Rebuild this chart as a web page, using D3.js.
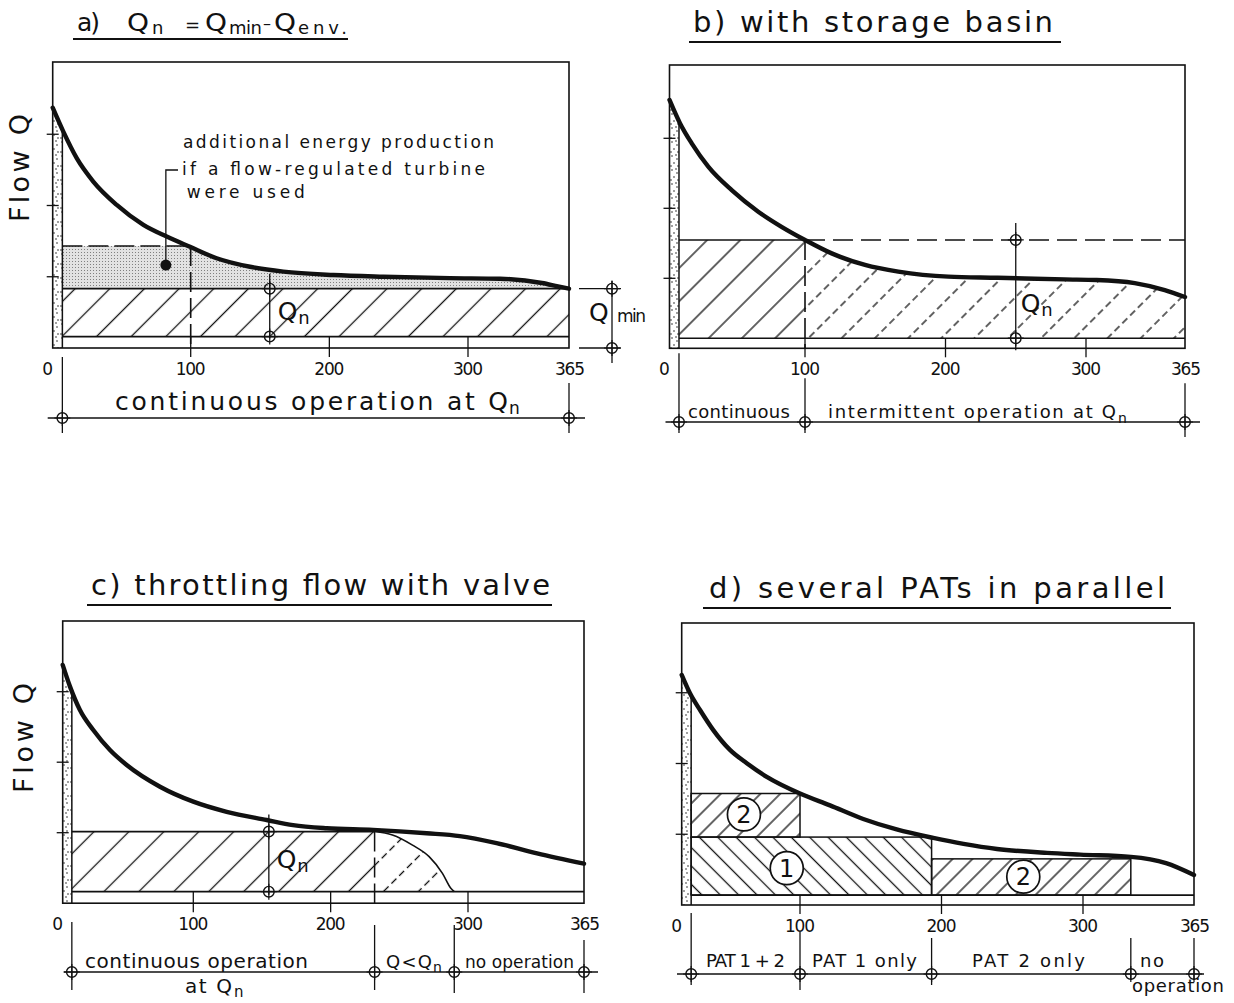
<!DOCTYPE html>
<html>
<head>
<meta charset="utf-8">
<script src="https://cdn.jsdelivr.net/npm/d3@7"></script>
<style>
  body { margin: 0; background: #fff; }
  text { font-family: "DejaVu Sans", sans-serif; fill: #111; }
</style>
</head>
<body>
<div id="chart"></div>
<script>
// ---------- values (day of year -> flow, ticks at 25/50/75) ----------
const dayTicks = [100, 200, 300];
const dayLabels = [0, 100, 200, 300, 365];
const flowTicks = [25, 50, 75];

// a) Qn = Qmin - Qenv
const daysA = [0, 7.7, 17.4, 29.4, 46.4, 65.7, 82.6, 99.5, 118.7, 142.8, 166.8, 202.8, 238.9, 287, 320.6, 347.6, 357.9, 365];
const flowA = [84.3, 75.9, 66.6, 58.4, 50.2, 43.2, 39.1, 35.5, 31.5, 28.5, 26.8, 25.6, 25, 24.5, 24.3, 22.8, 21.6, 20.8];
const qEnvA = 4, qMinA = 20.8, qRegA = 35.8;
const envDayA = 7, regDayA = 100, qnDimDayA = 157;
const noteDotA = [82, 29.1];
const noteLinesA = ["additional energy production", "if a flow-regulated turbine", "were used"];

// b) with storage basin
const daysB = [0, 7.7, 16.4, 28.6, 45.9, 65.5, 82.7, 100, 119, 142.7, 166.4, 202, 237.2, 284.7, 307, 332, 351.7, 365];
const flowB = [88.7, 80.4, 73.2, 64.9, 56.5, 48.8, 43.4, 38.7, 33.9, 29.8, 27.4, 25.6, 25.2, 24.6, 24.4, 23.3, 20.8, 18.3];
const qEnvB = 3.6, qNB = 38.7;
const envDayB = 7, storeDayB = 100, qnDimDayB = 250;

// c) throttling flow with valve
const daysC = [0, 5.6, 13.2, 23.4, 36.2, 49, 74.5, 100, 124.3, 153.4, 172.6, 197.1, 230.8, 269.9, 294, 316, 338.7, 365];
const flowC = [84.5, 76.8, 68.5, 61.4, 54.3, 49, 41.3, 36, 32.4, 29.5, 27.7, 26.6, 26, 24.8, 23.8, 21.3, 17.7, 14];
const valveDaysC = [232, 245, 259.6, 271.7, 281.4, 287.5, 290];
const valveFlowC = [25.4, 24.2, 20.6, 16.5, 10.6, 5.3, 4.1];
const qEnvC = 4.1, qNC = 25.4;
const envDayC = 7, qnDimDayC = 155;
const opDaysC = [7, 232, 290, 365];

// d) several PATs in parallel
const daysD = [0, 7, 15.5, 26.7, 40.8, 55, 71.9, 100, 121.2, 144.7, 168.3, 194.2, 215.6, 239.2, 274.6, 298, 328, 348.6, 365];
const flowD = [81.3, 74.8, 68.9, 61.8, 54.8, 50.1, 45.3, 39.4, 35.2, 30.4, 26.7, 23.7, 21.6, 19.8, 18.4, 17.8, 17, 14.8, 10.6];
const qEnvD = 3.5, envDayD = 8;
const patNames = ["2", "1", "2"];
const patStart = [8, 8, 193];
const patEnd = [100, 193, 328];
const patLow = [24, 3.5, 3.5];
const patHigh = [39.4, 24, 16.3];
const patLabelDay = [52.6, 88.8, 257.8];
const patLabelFlow = [32, 13, 10];
const opDaysD = [8, 100, 193, 328, 365];
const opTextD = ["PAT 1 + 2", "PAT 1 only", "PAT 2 only", "no"];

// ---------- layout ----------
const W = 1234, H = 1003;
const ink = '#111';
const dayBreaks = [0, 100, 300, 365];   // the drawing's day axis is not quite uniform
const layoutA = {id: 'a', xr: [52.7, 190.7, 468, 569], y0: 348, k: 2.85, top: 62};
const layoutB = {id: 'b', xr: [669.5, 805, 1086, 1185], y0: 348.3, k: 2.8, top: 65};
const layoutC = {id: 'c', xr: [62.7, 193.3, 468, 584], y0: 903.2, k: 2.82, top: 621};
const layoutD = {id: 'd', xr: [681.7, 800, 1083, 1194], y0: 905, k: 2.83, top: 623};

const svg = d3.select('#chart').append('svg')
  .attr('width', W)
  .attr('height', H);
const defs = svg.append('defs');

// hatch patterns
function hatch(id, gap, angle, dash) {
  const hgt = dash ? 22 : gap;
  const p = defs.append('pattern')
    .attr('id', id)
    .attr('patternUnits', 'userSpaceOnUse')
    .attr('width', gap)
    .attr('height', hgt)
    .attr('patternTransform', `rotate(${angle})`);
  p.append('line')
    .attr('x1', gap / 2).attr('y1', 0)
    .attr('x2', gap / 2).attr('y2', hgt)
    .attr('stroke', ink)
    .attr('stroke-width', 1.3)
    .attr('stroke-dasharray', dash || null);
}
hatch('hatchA', 24.5, 45);
hatch('hatchB', 23.5, 45);
hatch('hatchBd', 23.5, 45, '7,4');
hatch('hatchC', 24.7, 45);
hatch('hatchCd', 24.7, 45, '7,4');
hatch('hatchD1', 13, -45);
hatch('hatchD2', 14, 45);

// stippled strip (Q env)
const stip = defs.append('pattern')
  .attr('id', 'stipple')
  .attr('patternUnits', 'userSpaceOnUse')
  .attr('width', 10)
  .attr('height', 14);
[[2, 2], [7, 5], [4, 9], [8, 12], [1, 12], [6, 1]].forEach(d => {
  stip.append('circle').attr('cx', d[0]).attr('cy', d[1]).attr('r', 0.75).attr('fill', ink);
});

// grey screen for the extra energy
const grey = defs.append('pattern')
  .attr('id', 'grey')
  .attr('patternUnits', 'userSpaceOnUse')
  .attr('width', 3)
  .attr('height', 3);
grey.append('rect').attr('width', 3).attr('height', 3).attr('fill', '#e2e2e2');
grey.append('rect').attr('width', 1).attr('height', 1).attr('fill', '#808080');

// ---------- helpers ----------
function seg(g, x1, y1, x2, y2, w, dash) {
  return g.append('line')
    .attr('x1', x1).attr('y1', y1)
    .attr('x2', x2).attr('y2', y2)
    .attr('stroke', ink)
    .attr('stroke-width', w || 1.4)
    .attr('stroke-dasharray', dash || null);
}

function txt(g, s, x, y, size, len, anchor) {
  const t = g.append('text')
    .attr('x', x)
    .attr('y', y)
    .attr('font-size', size)
    .attr('text-anchor', anchor || 'start')
    .text(s);
  if (len) t.attr('textLength', len).attr('lengthAdjust', 'spacing');
  return t;
}

// a round drafting "Q": the glyph is widened a little
function bigQ(g, x, y, size, w) {
  return txt(g, 'Q', x, y, size).attr('textLength', w).attr('lengthAdjust', 'spacingAndGlyphs');
}

function crosshair(g, cx, cy) {
  g.append('circle')
    .attr('cx', cx).attr('cy', cy).attr('r', 5.3)
    .attr('fill', 'none')
    .attr('stroke', ink)
    .attr('stroke-width', 1.4);
  g.append('path')
    .attr('d', `M${cx - 8},${cy}H${cx + 8}M${cx},${cy - 8}V${cy + 8}`)
    .attr('stroke', ink)
    .attr('stroke-width', 1.2);
}

function qSub(g, x, y, sub, size, subSize) {
  txt(g, 'Q', x, y, size);
  txt(g, sub, x + size * 0.82, y + 4, subSize);
}

function makePanel(L, days, flow, envDay) {
  const x = d3.scaleLinear().domain(dayBreaks).range(L.xr);
  const y = d3.scaleLinear().domain([0, 100]).range([L.y0, L.y0 - 100 * L.k]);
  const g = svg.append('g').attr('id', 'panel-' + L.id);
  const pts = days.map((d, i) => [d, flow[i]]);
  const line = d3.line().x(d => x(d[0])).y(d => y(d[1])).curve(d3.curveMonotoneX);
  const area = d3.area().x(d => x(d[0])).y0(y(0)).y1(d => y(d[1])).curve(d3.curveMonotoneX);
  defs.append('clipPath').attr('id', 'under-' + L.id)
    .append('path').attr('d', area(pts));
  const P = {x, y, g, pts, line, L, envDay, clip: `url(#under-${L.id})`};

  // stippled strip of the environmental flow days
  g.append('rect')
    .attr('x', x(0))
    .attr('y', L.top)
    .attr('width', x(envDay) - x(0))
    .attr('height', L.y0 - L.top)
    .attr('fill', 'url(#stipple)')
    .attr('clip-path', P.clip);
  return P;
}

function finishPanel(P) {
  const {x, y, g, L, envDay} = P;
  // right edge of the strip, up to the curve
  seg(g, x(envDay), L.y0, x(envDay), L.top, 1.5).attr('clip-path', P.clip);
  // frame
  g.append('rect')
    .attr('x', x(0))
    .attr('y', L.top)
    .attr('width', x(365) - x(0))
    .attr('height', L.y0 - L.top)
    .attr('fill', 'none')
    .attr('stroke', ink)
    .attr('stroke-width', 1.6);
  // flow duration curve
  g.append('path')
    .attr('d', P.line(P.pts))
    .attr('fill', 'none')
    .attr('stroke', ink)
    .attr('stroke-width', 4.4)
    .attr('stroke-linecap', 'round');
  // ticks
  g.selectAll('.ytick').data(flowTicks).enter().append('line')
    .attr('class', 'ytick')
    .attr('x1', x(0) - 6).attr('x2', x(0) + 6)
    .attr('y1', d => y(d)).attr('y2', d => y(d))
    .attr('stroke', ink).attr('stroke-width', 1.3);
  g.selectAll('.xtick').data(dayTicks).enter().append('line')
    .attr('class', 'xtick')
    .attr('x1', d => x(d)).attr('x2', d => x(d))
    .attr('y1', P.tickTop).attr('y2', L.y0 + 9)
    .attr('stroke', ink).attr('stroke-width', 1.3);
  g.selectAll('.xlab').data(dayLabels).enter().append('text')
    .attr('class', 'xlab')
    .attr('x', d => d === 0 ? x(0) - 5 : x(d) + (d === 365 ? 1 : 0))
    .attr('y', L.y0 + 27)
    .attr('text-anchor', 'middle')
    .attr('font-size', 17)
    .attr('textLength', d => d === 0 ? null : 30)
    .text(d => d);
}

function dimLine(g, x1, x2, yl, marks) {
  seg(g, x1, yl, x2, yl, 1.3);
  marks.forEach(m => {
    seg(g, m[0], m[1], m[0], m[2], 1.3);
    crosshair(g, m[0], yl);
  });
}

// ================= a) =================
const A = makePanel(layoutA, daysA, flowA, envDayA);
{
  const {x, y, g} = A;
  // extra energy with a flow-regulated turbine
  g.append('rect')
    .attr('x', x(envDayA)).attr('y', y(qRegA))
    .attr('width', x(365) - x(envDayA))
    .attr('height', y(qMinA) - y(qRegA))
    .attr('fill', 'url(#grey)')
    .attr('clip-path', A.clip);
  // Qn band
  g.append('rect')
    .attr('x', x(envDayA)).attr('y', y(qMinA))
    .attr('width', x(365) - x(envDayA))
    .attr('height', y(qEnvA) - y(qMinA))
    .attr('fill', 'url(#hatchA)');
  seg(g, x(envDayA), y(qMinA), x(365), y(qMinA), 1.8);
  seg(g, x(envDayA), y(qEnvA), x(365), y(qEnvA), 1.6);
  seg(g, x(envDayA), y(qRegA), x(regDayA), y(qRegA), 1.6, '20,6');
  seg(g, x(regDayA), y(qRegA), x(regDayA), layoutA.y0, 1.6, '20,6');
  A.tickTop = y(qEnvA);
  finishPanel(A);

  // Qn dimension
  const qx = x(qnDimDayA);
  seg(g, qx, y(qMinA) - 15, qx, y(qEnvA) + 2, 1.3);
  crosshair(g, qx, y(qMinA));
  crosshair(g, qx, y(qEnvA));
  qSub(g, qx + 8, y(qEnvA) - 17, 'n', 25, 18);

  // Qmin dimension at the right
  const rx = x(365);
  seg(g, rx + 10, y(qMinA), rx + 52, y(qMinA), 1.3);
  seg(g, rx + 10, layoutA.y0, rx + 52, layoutA.y0, 1.3);
  seg(g, rx + 43, y(qMinA) - 8, rx + 43, layoutA.y0 + 15, 1.3);
  crosshair(g, rx + 43, y(qMinA));
  crosshair(g, rx + 43, layoutA.y0);
  txt(g, 'Q', rx + 20, 321, 25);
  txt(g, 'min', rx + 48, 322, 17, 29);

  // annotation
  txt(g, noteLinesA[0], 183, 148, 17, 311);
  txt(g, noteLinesA[1], 182, 175, 17, 303);
  txt(g, noteLinesA[2], 186.7, 198, 17, 118);
  g.append('path')
    .attr('d', `M178,170H${x(noteDotA[0])}V${y(noteDotA[1])}`)
    .attr('fill', 'none').attr('stroke', ink).attr('stroke-width', 1.3);
  g.append('circle')
    .attr('cx', x(noteDotA[0])).attr('cy', y(noteDotA[1])).attr('r', 5.5)
    .attr('fill', ink);

  // title  a)  Qn = Qmin - Qenv.
  txt(g, 'a)', 77, 31, 25, 23);
  bigQ(g, 127, 31, 24, 22);
  txt(g, 'n', 152, 34, 18);
  txt(g, '=', 185, 31, 18);
  bigQ(g, 205, 31, 24, 22);
  txt(g, 'min', 229, 34, 18, 33);
  txt(g, '–', 263, 29, 16);
  bigQ(g, 274, 31, 24, 22);
  txt(g, 'env.', 298, 34, 18, 49);
  seg(g, 73, 39, 348, 39, 2);

  // axis name
  txt(g, 'Flow Q', 0, 0, 27, 108).attr('transform', 'translate(29,222) rotate(-90)');

  // bottom dimension
  dimLine(g, x(0) - 5, x(365) + 16, 418, [
    [x(envDayA), layoutA.y0 + 9, 433],
    [x(365), layoutA.y0 + 35, 433]
  ]);
  txt(g, 'continuous operation at Q', 115, 410, 25, 393);
  txt(g, 'n', 509, 414, 17);
}

// ================= b) =================
const B = makePanel(layoutB, daysB, flowB, envDayB);
{
  const {x, y, g} = B;
  g.append('rect')
    .attr('x', x(envDayB)).attr('y', y(qNB))
    .attr('width', x(storeDayB) - x(envDayB))
    .attr('height', y(qEnvB) - y(qNB))
    .attr('fill', 'url(#hatchB)');
  g.append('rect')
    .attr('x', x(storeDayB)).attr('y', y(qNB))
    .attr('width', x(365) - x(storeDayB))
    .attr('height', y(qEnvB) - y(qNB))
    .attr('fill', 'url(#hatchBd)')
    .attr('clip-path', B.clip);
  seg(g, x(envDayB), y(qNB), x(storeDayB), y(qNB), 1.6);
  seg(g, x(storeDayB), y(qNB), x(365), y(qNB), 1.6, '20,8');
  seg(g, x(envDayB), y(qEnvB), x(365), y(qEnvB), 1.6);
  seg(g, x(storeDayB), y(qNB), x(storeDayB), layoutB.y0, 1.6, '20,6');
  B.tickTop = y(qEnvB);
  finishPanel(B);

  const qx = x(qnDimDayB);
  seg(g, qx, y(qNB) - 17, qx, layoutB.y0 + 2, 1.3);
  crosshair(g, qx, y(qNB));
  crosshair(g, qx, y(qEnvB));
  qSub(g, qx + 5, 312, 'n', 25, 18);

  txt(g, 'b) with storage basin', 693, 32, 29, 360);
  seg(g, 689, 42, 1061, 42, 2);

  dimLine(g, x(0) - 4, x(365) + 15, 422, [
    [x(envDayB), layoutB.y0 + 5, 433],
    [x(storeDayB), layoutB.y0 + 30, 433],
    [x(365), layoutB.y0 + 35, 437]
  ]);
  txt(g, 'continuous', 688, 418, 18, 102);
  txt(g, 'intermittent operation at Q', 828, 418, 18, 288);
  txt(g, 'n', 1118, 423, 14);
}

// ================= c) =================
const C = makePanel(layoutC, daysC, flowC, envDayC);
{
  const {x, y, g} = C;
  const vStart = valveDaysC[0];
  g.append('rect')
    .attr('x', x(envDayC)).attr('y', y(qNC))
    .attr('width', x(vStart) - x(envDayC))
    .attr('height', y(qEnvC) - y(qNC))
    .attr('fill', 'url(#hatchC)');
  const vpts = valveDaysC.map((d, i) => [d, valveFlowC[i]]);
  const vArea = d3.area().x(d => x(d[0])).y0(y(qEnvC)).y1(d => y(d[1])).curve(d3.curveMonotoneX);
  const vLine = d3.line().x(d => x(d[0])).y(d => y(d[1])).curve(d3.curveMonotoneX);
  g.append('path').attr('d', vArea(vpts)).attr('fill', 'url(#hatchCd)');
  g.append('path').attr('d', vLine(vpts))
    .attr('fill', 'none').attr('stroke', ink).attr('stroke-width', 1.6);
  seg(g, x(envDayC), y(qNC), x(vStart), y(qNC), 1.7);
  seg(g, x(envDayC), y(qEnvC), x(365), y(qEnvC), 1.6);
  seg(g, x(vStart), y(qNC), x(vStart), layoutC.y0, 1.5, '20,6');
  C.tickTop = y(qEnvC);
  finishPanel(C);

  const qx = x(qnDimDayC);
  seg(g, qx, y(qNC) - 17, qx, y(qEnvC) + 3, 1.3);
  crosshair(g, qx, y(qNC));
  crosshair(g, qx, y(qEnvC));
  qSub(g, qx + 8, 868, 'n', 25, 18);

  txt(g, 'c) throttling flow with valve', 91, 595, 29, 459);
  seg(g, 87, 605, 552, 605, 2);
  txt(g, 'Flow Q', 0, 0, 27, 110).attr('transform', 'translate(33,793) rotate(-90)');

  dimLine(g, x(0) + 1, x(365) + 14, 972, [
    [x(opDaysC[0]), 922, 990],
    [x(opDaysC[1]), 925, 990],
    [x(opDaysC[2]), 925, 993],
    [x(opDaysC[3]), 940, 993]
  ]);
  txt(g, 'continuous operation', 85, 968, 20, 223);
  txt(g, 'at Q', 185, 993, 20, 47);
  txt(g, 'n', 234, 997, 15);
  txt(g, 'Q < Q', 386, 968, 18, 46);
  txt(g, 'n', 433, 972, 14);
  txt(g, 'no operation', 465, 968, 17, 109);
}

// ================= d) =================
const D = makePanel(layoutD, daysD, flowD, envDayD);
{
  const {x, y, g} = D;
  const fills = ['url(#hatchD2)', 'url(#hatchD1)', 'url(#hatchD2)'];
  patNames.forEach((n, i) => {
    g.append('rect')
      .attr('x', x(patStart[i])).attr('y', y(patHigh[i]))
      .attr('width', x(patEnd[i]) - x(patStart[i]))
      .attr('height', y(patLow[i]) - y(patHigh[i]))
      .attr('fill', fills[i])
      .attr('stroke', ink)
      .attr('stroke-width', 1.5);
  });
  seg(g, x(envDayD), y(qEnvD), x(365), y(qEnvD), 1.6);
  D.tickTop = y(qEnvD);
  finishPanel(D);

  patNames.forEach((n, i) => {
    const cx = x(patLabelDay[i]), cy = y(patLabelFlow[i]);
    g.append('circle')
      .attr('cx', cx).attr('cy', cy).attr('r', 16.5)
      .attr('fill', '#fff').attr('stroke', ink).attr('stroke-width', 1.7);
    txt(g, n, cx, cy + 8.5, 24, null, 'middle');
  });

  txt(g, 'd) several PATs in parallel', 709, 598, 29, 456);
  seg(g, 703, 608, 1171, 608, 2);

  dimLine(g, 677, 1204, 974, [
    [x(opDaysD[0]), 913, 985],
    [x(opDaysD[1]), 932, 990],
    [x(opDaysD[2]), 938, 985],
    [x(opDaysD[3]), 938, 980],
    [x(opDaysD[4]), 938, 980]
  ]);
  txt(g, opTextD[0], 706, 967, 18, 79);
  txt(g, opTextD[1], 812, 967, 18, 105);
  txt(g, opTextD[2], 972, 967, 18, 113);
  txt(g, opTextD[3], 1140, 967, 18, 24);
  txt(g, 'operation', 1132, 992, 18, 92);
}
</script>
</body>
</html>
